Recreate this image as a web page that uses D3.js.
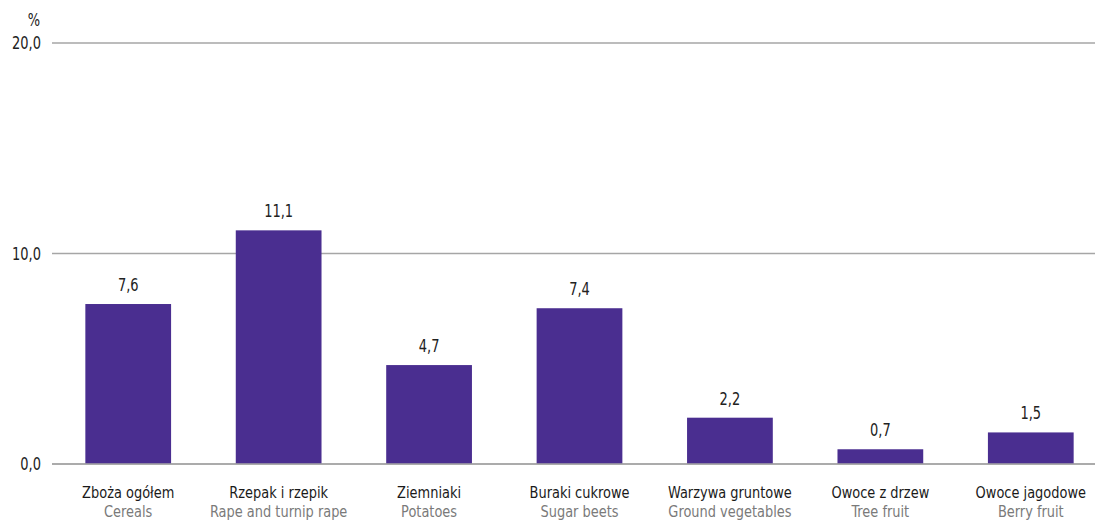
<!DOCTYPE html>
<html><head><meta charset="utf-8">
<script src="https://cdn.jsdelivr.net/npm/d3@7"></script>
<style>
body{margin:0;background:#fff;}
svg{display:block;font-family:"DejaVu Sans Condensed","DejaVu Sans",sans-serif;}
</style></head><body>
<svg id="c" width="1095" height="520"></svg>
<script>
const categoriesPL = ["Zboża ogółem","Rzepak i rzepik","Ziemniaki","Buraki cukrowe","Warzywa gruntowe","Owoce z drzew","Owoce jagodowe"];
const categoriesEN = ["Cereals","Rape and turnip rape","Potatoes","Sugar beets","Ground vegetables","Tree fruit","Berry fruit"];
const values = [7.6, 11.1, 4.7, 7.4, 2.2, 0.7, 1.5];
const yTicks = [0, 10, 20];
const yUnit = "%";

const svg = d3.select("#c");
const fmt = v => d3.format(".1f")(v).replace(".", ",");
const place = (px, py, sx) => `translate(${px},${py}) scale(${sx},1)`;

const x = d3.scaleBand().domain(d3.range(values.length)).range([53, 1106]).paddingInner(0.43).paddingOuter(0.215);
const y = d3.scaleLinear().domain([0, 20]).range([464, 43]);

// gridlines
svg.append("g").selectAll("line").data(yTicks).join("line")
  .attr("x1", 52).attr("x2", 1095)
  .attr("y1", d => y(d)).attr("y2", d => y(d))
  .attr("stroke", "#a6a6a6").attr("stroke-width", 1.3);

// y tick labels
svg.append("g").selectAll("text").data(yTicks).join("text")
  .attr("transform", d => place(41, y(d) + 6, 0.85))
  .attr("text-anchor", "end").attr("font-size", 17).attr("fill", "#222")
  .text(d => fmt(d));

svg.append("text").attr("transform", place(40, 26, 0.85)).attr("text-anchor", "end")
  .attr("font-size", 17).attr("fill", "#222").text(yUnit);

// bars
svg.append("g").selectAll("rect").data(values).join("rect")
  .attr("x", (d, i) => x(i)).attr("width", x.bandwidth())
  .attr("y", d => y(d)).attr("height", d => y(0) - y(d))
  .attr("fill", "#4a2e90");

// zero line on top
svg.append("line").attr("x1", 52).attr("x2", 1095).attr("y1", y(0)).attr("y2", y(0))
  .attr("stroke", "#a6a6a6").attr("stroke-width", 1.5);

// value labels
svg.append("g").selectAll("text").data(values).join("text")
  .attr("transform", (d, i) => place(x(i) + x.bandwidth() / 2, y(d) - 13, 0.85))
  .attr("text-anchor", "middle").attr("font-size", 17).attr("fill", "#222")
  .text(d => fmt(d));

// category labels
const cx = i => x(i) + x.bandwidth() / 2;
svg.append("g").selectAll("text").data(categoriesPL).join("text")
  .attr("transform", (d, i) => place(cx(i), 498, 0.93))
  .attr("text-anchor", "middle").attr("font-size", 15.5).attr("fill", "#1a1a1a").text(d => d);
svg.append("g").selectAll("text").data(categoriesEN).join("text")
  .attr("transform", (d, i) => place(cx(i), 517, 0.93))
  .attr("text-anchor", "middle").attr("font-size", 15.5).attr("fill", "#7a7a7a").text(d => d);
</script>
</body></html>
